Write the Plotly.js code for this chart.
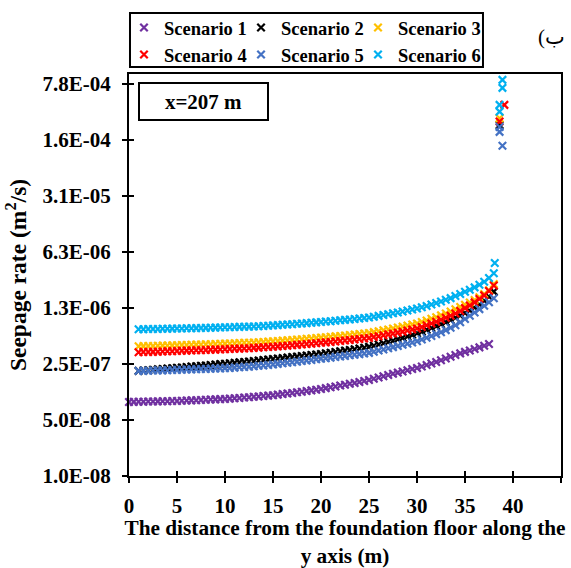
<!DOCTYPE html>
<html>
<head>
<meta charset="utf-8">
<script src="https://cdn.plot.ly/plotly-3.0.1.min.js"></script>
<style>html,body{margin:0;padding:0;background:#fff;}#chart{width:571px;height:568px;}</style>
</head>
<body>
<div id="chart"></div>
<script>
// x positions (m)
var xPurple = [0,0.5,1,1.5,2,2.5,3,3.5,4,4.5,5,5.5,6,6.5,7,7.5,8,8.5,9,9.5,10,10.5,11,11.5,12,12.5,13,13.5,14,14.5,15,15.5,16,16.5,17,17.5,18,18.5,19,19.5,20,20.5,21,21.5,22,22.5,23,23.5,24,24.5,25,25.5,26,26.5,27,27.5,28,28.5,29,29.5,30,30.5,31,31.5,32,32.5,33,33.5,34,34.5,35,35.5,36,36.5,37,37.5];
var xMain = [1,1.5,2,2.5,3,3.5,4,4.5,5,5.5,6,6.5,7,7.5,8,8.5,9,9.5,10,10.5,11,11.5,12,12.5,13,13.5,14,14.5,15,15.5,16,16.5,17,17.5,18,18.5,19,19.5,20,20.5,21,21.5,22,22.5,23,23.5,24,24.5,25,25.5,26,26.5,27,27.5,28,28.5,29,29.5,30,30.5,31,31.5,32,32.5,33,33.5,34,34.5,35,35.5,36,36.5,37,37.5,38];

// Seepage rate (m2/s)
var s1 = [8.39e-8,8.41e-8,8.44e-8,8.46e-8,8.49e-8,8.51e-8,8.54e-8,8.56e-8,8.59e-8,8.62e-8,8.64e-8,8.69e-8,8.74e-8,8.79e-8,8.84e-8,8.89e-8,8.94e-8,8.99e-8,9.04e-8,9.10e-8,9.15e-8,9.24e-8,9.33e-8,9.43e-8,9.53e-8,9.63e-8,9.73e-8,9.84e-8,9.95e-8,10.07e-8,10.19e-8,10.36e-8,10.53e-8,10.71e-8,10.89e-8,11.08e-8,11.28e-8,11.49e-8,11.71e-8,11.94e-8,12.2e-8,12.5e-8,12.8e-8,13.1e-8,13.45e-8,13.8e-8,14.15e-8,14.5e-8,14.9e-8,15.3e-8,15.8e-8,16.4e-8,17.0e-8,17.6e-8,18.25e-8,18.9e-8,19.5e-8,20.2e-8,20.9e-8,21.6e-8,22.3e-8,23.3e-8,24.3e-8,25.4e-8,26.5e-8,27.9e-8,29.3e-8,30.8e-8,32.4e-8,33.9e-8,35.4e-8,36.9e-8,38.5e-8,40.3e-8,42.3e-8,44.5e-8];
var s2 = [2.05e-7,2.07e-7,2.09e-7,2.12e-7,2.14e-7,2.16e-7,2.19e-7,2.21e-7,2.24e-7,2.26e-7,2.29e-7,2.32e-7,2.34e-7,2.37e-7,2.40e-7,2.43e-7,2.46e-7,2.49e-7,2.52e-7,2.55e-7,2.58e-7,2.62e-7,2.65e-7,2.69e-7,2.72e-7,2.76e-7,2.80e-7,2.84e-7,2.88e-7,2.92e-7,2.96e-7,3.00e-7,3.05e-7,3.09e-7,3.14e-7,3.19e-7,3.24e-7,3.29e-7,3.34e-7,3.40e-7,3.46e-7,3.53e-7,3.60e-7,3.67e-7,3.74e-7,3.82e-7,3.90e-7,3.99e-7,4.09e-7,4.22e-7,4.37e-7,4.53e-7,4.70e-7,4.88e-7,5.08e-7,5.29e-7,5.52e-7,5.77e-7,6.04e-7,6.34e-7,6.67e-7,7.03e-7,7.42e-7,7.85e-7,8.32e-7,8.84e-7,9.42e-7,10.07e-7,10.80e-7,11.65e-7,12.65e-7,13.85e-7,15.35e-7,17.3e-7,20.0e-7];
var s3 = [4.16e-7,4.18e-7,4.19e-7,4.20e-7,4.22e-7,4.24e-7,4.25e-7,4.27e-7,4.29e-7,4.31e-7,4.32e-7,4.34e-7,4.36e-7,4.38e-7,4.40e-7,4.42e-7,4.44e-7,4.46e-7,4.49e-7,4.51e-7,4.54e-7,4.56e-7,4.59e-7,4.61e-7,4.64e-7,4.68e-7,4.71e-7,4.75e-7,4.80e-7,4.84e-7,4.89e-7,4.94e-7,4.98e-7,5.04e-7,5.09e-7,5.15e-7,5.21e-7,5.28e-7,5.33e-7,5.40e-7,5.47e-7,5.53e-7,5.60e-7,5.68e-7,5.76e-7,5.84e-7,5.93e-7,6.01e-7,6.10e-7,6.25e-7,6.41e-7,6.58e-7,6.75e-7,6.93e-7,7.12e-7,7.32e-7,7.53e-7,7.76e-7,8.00e-7,8.34e-7,8.72e-7,9.15e-7,9.60e-7,10.10e-7,10.67e-7,11.29e-7,12.04e-7,12.87e-7,13.73e-7,14.60e-7,15.68e-7,17.01e-7,18.62e-7,20.84e-7,24.8e-7];
var s4 = [3.50e-7,3.52e-7,3.53e-7,3.54e-7,3.56e-7,3.58e-7,3.60e-7,3.61e-7,3.63e-7,3.65e-7,3.67e-7,3.68e-7,3.70e-7,3.72e-7,3.74e-7,3.76e-7,3.78e-7,3.80e-7,3.82e-7,3.84e-7,3.87e-7,3.89e-7,3.91e-7,3.93e-7,3.97e-7,4.00e-7,4.04e-7,4.07e-7,4.11e-7,4.15e-7,4.19e-7,4.23e-7,4.28e-7,4.33e-7,4.37e-7,4.43e-7,4.48e-7,4.53e-7,4.59e-7,4.65e-7,4.71e-7,4.77e-7,4.84e-7,4.90e-7,4.98e-7,5.05e-7,5.12e-7,5.21e-7,5.28e-7,5.42e-7,5.55e-7,5.70e-7,5.85e-7,6.00e-7,6.16e-7,6.34e-7,6.53e-7,6.72e-7,6.92e-7,7.25e-7,7.61e-7,8.00e-7,8.42e-7,8.89e-7,9.42e-7,9.99e-7,10.68e-7,11.46e-7,12.44e-7,13.44e-7,14.69e-7,16.15e-7,17.96e-7,20.36e-7,23.8e-7];
var s5 = [2.05e-7,2.05e-7,2.06e-7,2.07e-7,2.08e-7,2.08e-7,2.09e-7,2.10e-7,2.11e-7,2.12e-7,2.13e-7,2.14e-7,2.15e-7,2.16e-7,2.17e-7,2.18e-7,2.19e-7,2.20e-7,2.22e-7,2.23e-7,2.25e-7,2.27e-7,2.29e-7,2.31e-7,2.34e-7,2.37e-7,2.40e-7,2.43e-7,2.47e-7,2.51e-7,2.55e-7,2.59e-7,2.63e-7,2.67e-7,2.72e-7,2.76e-7,2.81e-7,2.86e-7,2.91e-7,2.95e-7,3.00e-7,3.05e-7,3.10e-7,3.15e-7,3.21e-7,3.26e-7,3.32e-7,3.38e-7,3.44e-7,3.56e-7,3.68e-7,3.80e-7,3.93e-7,4.06e-7,4.20e-7,4.34e-7,4.48e-7,4.63e-7,4.80e-7,5.04e-7,5.30e-7,5.59e-7,5.90e-7,6.24e-7,6.62e-7,7.08e-7,7.62e-7,8.30e-7,9.10e-7,10.0e-7,11.0e-7,12.1e-7,13.3e-7,14.7e-7,16.5e-7];
var s6 = [6.79e-7,6.80e-7,6.82e-7,6.83e-7,6.85e-7,6.87e-7,6.89e-7,6.91e-7,6.93e-7,6.95e-7,6.97e-7,6.99e-7,7.01e-7,7.04e-7,7.06e-7,7.09e-7,7.11e-7,7.14e-7,7.17e-7,7.20e-7,7.23e-7,7.26e-7,7.29e-7,7.31e-7,7.36e-7,7.41e-7,7.46e-7,7.52e-7,7.58e-7,7.64e-7,7.71e-7,7.78e-7,7.85e-7,7.93e-7,8.01e-7,8.09e-7,8.18e-7,8.27e-7,8.36e-7,8.46e-7,8.56e-7,8.66e-7,8.77e-7,8.88e-7,9.00e-7,9.12e-7,9.25e-7,9.38e-7,9.52e-7,9.74e-7,9.97e-7,10.21e-7,10.46e-7,10.72e-7,11.00e-7,11.30e-7,11.62e-7,11.96e-7,12.3e-7,12.75e-7,13.25e-7,13.8e-7,14.4e-7,15.05e-7,15.8e-7,16.6e-7,17.6e-7,18.7e-7,19.9e-7,21.1e-7,22.6e-7,24.4e-7,26.6e-7,29.6e-7,34.0e-7];

// points at the end of the foundation (x, rate)
var s2TailX = [38.6], s2TailY = [2.40e-4];
var s3TailX = [38.6], s3TailY = [2.92e-4];
var s4TailX = [38.6, 39.1], s4TailY = [2.65e-4, 4.28e-4];
var s5TailX = [38.6, 38.6, 38.9], s5TailY = [1.97e-4, 2.27e-4, 1.32e-4];
var s6TailX = [38.1, 38.6, 38.6, 38.9, 38.9], s6TailY = [4.55e-6, 3.53e-4, 4.28e-4, 6.98e-4, 8.79e-4];

var names = ['Scenario 1','Scenario 2','Scenario 3','Scenario 4','Scenario 5','Scenario 6'];
var colors = ['#7030A0','#000000','#FFC000','#FF0000','#4472C4','#00B0F0'];
var legendCol = ['legend','legend2','legend3','legend','legend2','legend3'];

var yTickVals = [1e-8, 5e-8, 2.5e-7, 1.25e-6, 6.25e-6, 3.125e-5, 1.5625e-4, 7.8125e-4];
var yTickText = ['1.0E-08','5.0E-08','2.5E-07','1.3E-06','6.3E-06','3.1E-05','1.6E-04','7.8E-04'];
var xTickVals = [0,5,10,15,20,25,30,35,40,45];

var seriesX = [xPurple, xMain.concat(s2TailX), xMain.concat(s3TailX), xMain.concat(s4TailX), xMain.concat(s5TailX), xMain.concat(s6TailX)];
var seriesY = [s1, s2.concat(s2TailY), s3.concat(s3TailY), s4.concat(s4TailY), s5.concat(s5TailY), s6.concat(s6TailY)];

var traces = [];
for (var i = 0; i < 6; i++) {
  traces.push({
    type: 'scatter', mode: 'markers', name: names[i], legend: legendCol[i],
    x: seriesX[i], y: seriesY[i], cliponaxis: false,
    marker: {symbol: 'x-thin-open', size: 7.5, color: colors[i], line: {color: colors[i], width: 2.2}}
  });
}
traces.push({type:'scatter', mode:'markers', x:[], y:[], xaxis:'x2', yaxis:'y2', showlegend:false, hoverinfo:'skip'});

var FONT = 'Liberation Serif, Times New Roman, serif';
var axisCommon = {showgrid:false, zeroline:false, showline:true, linecolor:'#000', linewidth:2, mirror:true,
  ticks:'outside', ticklen:5, tickwidth:2, tickcolor:'#000'};
var legendCommon = {orientation:'v', xanchor:'left', yanchor:'top', bgcolor:'rgba(0,0,0,0)', borderwidth:0, y:1.1617,
  font:{size:18.5, weight:'bold', family:FONT, color:'#000'}, traceorder:'normal', tracegroupgap:0};

var layout = {
  width: 571, height: 568,
  margin: {l:129, r:10, t:74, b:92, autoexpand:false},
  paper_bgcolor:'#fff', plot_bgcolor:'#fff',
  font: {family: FONT, color:'#000'},
  showlegend: true,
  xaxis: Object.assign({}, axisCommon, {
    range:[0,45], tickmode:'array', tickvals:xTickVals,
    tickfont:{size:21, weight:'bold', family:FONT},
    ticklabelstandoff: 5,
    title:{text:'The distance from the foundation floor along the<br>y axis (m)', font:{size:21.3, weight:'bold', family:FONT}, standoff: 21}
  }),
  yaxis: Object.assign({}, axisCommon, {
    type:'log', range:[-8, -2.983], tickmode:'array', tickvals:yTickVals, ticktext:yTickText,
    tickfont:{size:21, weight:'bold', family:FONT},
    ticklabelstandoff: 7,
    title:{text:'Seepage rate (m<sup>2</sup>/s)', font:{size:23.5, weight:'bold', family:FONT}, standoff: 9}
  }),
  xaxis2: {overlaying:'x', anchor:'y', side:'bottom', range:[0,45], tickmode:'array', tickvals:xTickVals,
    ticks:'inside', ticklen:5, tickwidth:2, tickcolor:'#000', showticklabels:false, showline:false, showgrid:false, zeroline:false},
  yaxis2: {overlaying:'y', anchor:'x', side:'left', type:'log', range:[-8, -2.983], tickmode:'array', tickvals:yTickVals,
    ticks:'inside', ticklen:5, tickwidth:2, tickcolor:'#000', showticklabels:false, showline:false, showgrid:false, zeroline:false},
  legend: Object.assign({}, legendCommon, {x:-0.0116}),
  legend2: Object.assign({}, legendCommon, {x:0.2593}),
  legend3: Object.assign({}, legendCommon, {x:0.5301}),
  shapes: [
    {type:'rect', xref:'paper', yref:'paper', x0:0.0023, x1:0.8194, y0:1.0174, y1:1.1517,
     line:{color:'#000', width:2}, fillcolor:'#fff', layer:'above'}
  ],
  annotations: [
    {xref:'paper', yref:'paper', x:0.0208, y:0.980, xanchor:'left', yanchor:'top', showarrow:false,
     text:'x=207 m', font:{size:21, weight:'bold', family:FONT, color:'#000'},
     bordercolor:'#000', borderwidth:2, borderpad:0, width:127, height:35, bgcolor:'#fff'},
    {xref:'paper', yref:'paper', x:0.977, y:1.092, xanchor:'center', yanchor:'middle', showarrow:false,
     text:'\u0628)\u200F', font:{size:21, family:'Liberation Serif, DejaVu Serif, DejaVu Sans, serif', color:'#000'}}
  ]
};

Plotly.newPlot('chart', traces, layout, {displayModeBar:false, staticPlot:true});
</script>
</body>
</html>
